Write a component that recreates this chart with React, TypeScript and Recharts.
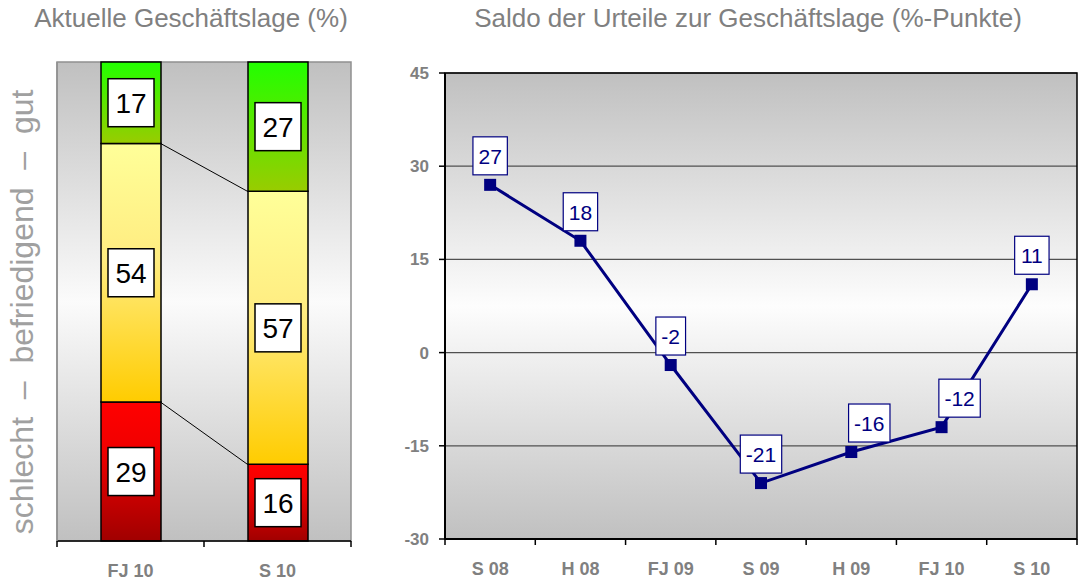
import React from 'react';
import {
  BarChart, Bar, LineChart, Line, XAxis, YAxis, CartesianGrid,
  LabelList, ReferenceLine, ReferenceArea,
} from 'recharts';

// Aktuelle Geschäftslage (%)
const periods = ['FJ 10', 'S 10'];
const schlecht = [29, 16];
const befriedigend = [54, 57];
const gut = [17, 27];

// Saldo der Urteile (%-Punkte)
const saldoPeriods = ['S 08', 'H 08', 'FJ 09', 'S 09', 'H 09', 'FJ 10', 'S 10'];
const saldo = [27, 18, -2, -21, -16, -12, 11];
const saldoTicks = [-30, -15, 0, 15, 30, 45];

const FONT = '"Liberation Sans", Arial, Helvetica, sans-serif';
const GREY = '#808080';
const NAVY = '#000080';
const BAR = 60;

const shareData = periods.map((p, i) => ({
  name: p, schlecht: schlecht[i], befriedigend: befriedigend[i], gut: gut[i],
}));
const saldoData = saldoPeriods.map((p, i) => ({ name: p, saldo: saldo[i] }));

// tick line at the band edges + bold grey category text
function EdgeTick(props: any) {
  const { x, y, payload, index, visibleTicksCount } = props;
  const half = payload?.offset ?? 0;
  const last = index === visibleTicksCount - 1;
  return (
    <g>
      <line x1={x - half} y1={y} x2={x - half} y2={y + 6} stroke="#000" strokeWidth={1.5} />
      {last && <line x1={x + half} y1={y} x2={x + half} y2={y + 6} stroke="#000" strokeWidth={1.5} />}
      <text x={x} y={y + 36} textAnchor="middle" fill={GREY} fontSize={18} fontWeight="bold" fontFamily={FONT}>
        {payload.value}
      </text>
    </g>
  );
}

function boxOf(props: any) {
  const vb = props.viewBox || {};
  return {
    x: props.x ?? vb.x ?? 0,
    y: props.y ?? vb.y ?? 0,
    width: props.width ?? vb.width ?? 0,
    height: props.height ?? vb.height ?? 0,
  };
}

function ShareLabel(props: any) {
  const b = boxOf(props);
  const cx = b.x + b.width / 2;
  const cy = b.y + b.height / 2;
  return (
    <g>
      <rect x={cx - 23} y={cy - 24} width={46} height={48} fill="#fff" stroke="#000" strokeWidth={1.5} />
      <text x={cx} y={cy + 10} textAnchor="middle" fontSize={28} fontFamily={FONT} fill="#000">
        {props.value}
      </text>
    </g>
  );
}

function SaldoLabel(props: any) {
  const b = boxOf(props);
  const text = String(props.value);
  const nudge = props.index === 4 || props.index === 5 ? 18 : 0;
  const w = [...text].reduce((s, c) => s + (c === '-' ? 7 : 11.7), 0) + 11;
  const cx = b.x + nudge;
  const top = b.y - 48;
  return (
    <g>
      <rect x={cx - w / 2} y={top} width={w} height={38} fill="#fff" stroke={NAVY} strokeWidth={1.2} />
      <text x={cx} y={top + 27} textAnchor="middle" fontSize={21} fontFamily={FONT} fill={NAVY}>
        {text}
      </text>
    </g>
  );
}

function SquareDot(props: any) {
  const { cx, cy } = props;
  return <rect x={cx - 6} y={cy - 6} width={12} height={12} fill={NAVY} />;
}

function ShareChart() {
  const low = [schlecht[0], schlecht[1]];
  const mid = [schlecht[0] + befriedigend[0], schlecht[1] + befriedigend[1]];
  const connector = (p: any) => (
    <line x1={p.x1 + BAR / 2} y1={p.y1} x2={p.x2 - BAR / 2} y2={p.y2} stroke="#000" strokeWidth={1} />
  );
  return (
    <BarChart width={370} height={584} data={shareData} margin={{ top: 62, right: 19, bottom: 0, left: 0 }} barSize={BAR}>
      <defs>
        <linearGradient id="bgL" x1="0" y1="0" x2="0" y2="1">
          <stop offset="0%" stopColor="#c0c0c0" />
          <stop offset="50%" stopColor="#fbfbfb" />
          <stop offset="100%" stopColor="#c0c0c0" />
        </linearGradient>
        <linearGradient id="gRed" x1="0" y1="0" x2="0" y2="1">
          <stop offset="0%" stopColor="#ff0000" />
          <stop offset="35%" stopColor="#f00000" />
          <stop offset="100%" stopColor="#a00000" />
        </linearGradient>
        <linearGradient id="gYellow" x1="0" y1="0" x2="0" y2="1">
          <stop offset="0%" stopColor="#ffff99" />
          <stop offset="45%" stopColor="#ffec80" />
          <stop offset="100%" stopColor="#ffcc00" />
        </linearGradient>
        <linearGradient id="gGreen" x1="0" y1="0" x2="0" y2="1">
          <stop offset="0%" stopColor="#22ff00" />
          <stop offset="100%" stopColor="#99cc00" />
        </linearGradient>
      </defs>
      <CartesianGrid horizontal={false} vertical={false} fill="url(#bgL)" />
      <XAxis
        dataKey="name" height={43} tickSize={0} tickMargin={0}
        axisLine={{ stroke: '#000', strokeWidth: 1.5 }} tickLine={false} tick={<EdgeTick />}
        interval={0}
      />
      <YAxis
        type="number" domain={[0, 100]} width={57} tick={false} tickLine={false}
        axisLine={{ stroke: '#909090', strokeWidth: 1.5 }}
      />
      <ReferenceArea y1={0} y2={100} fill="none" stroke="#909090" strokeWidth={1.5} />
      <Bar dataKey="schlecht" stackId="a" fill="url(#gRed)" stroke="#000" strokeWidth={1.5} isAnimationActive={false}>
        <LabelList dataKey="schlecht" content={<ShareLabel />} />
      </Bar>
      <Bar dataKey="befriedigend" stackId="a" fill="url(#gYellow)" stroke="#000" strokeWidth={1.5} isAnimationActive={false}>
        <LabelList dataKey="befriedigend" content={<ShareLabel />} />
      </Bar>
      <Bar dataKey="gut" stackId="a" fill="url(#gGreen)" stroke="#000" strokeWidth={1.5} isAnimationActive={false}>
        <LabelList dataKey="gut" content={<ShareLabel />} />
      </Bar>
      <ReferenceLine segment={[{ x: periods[0], y: low[0] }, { x: periods[1], y: low[1] }]} shape={connector} />
      <ReferenceLine segment={[{ x: periods[0], y: mid[0] }, { x: periods[1], y: mid[1] }]} shape={connector} />
    </BarChart>
  );
}

function SaldoChart() {
  return (
    <LineChart width={699} height={584} data={saldoData} margin={{ top: 73, right: 2, bottom: 0, left: 0 }}>
      <defs>
        <linearGradient id="bgR" x1="0" y1="0" x2="0" y2="1">
          <stop offset="0%" stopColor="#c0c0c0" />
          <stop offset="50%" stopColor="#fdfdfd" />
          <stop offset="100%" stopColor="#c0c0c0" />
        </linearGradient>
      </defs>
      <CartesianGrid vertical={false} stroke="#505050" strokeWidth={1.2} fill="url(#bgR)" />
      <XAxis
        dataKey="name" scale="band" height={45} tickSize={0} tickMargin={0} interval={0}
        axisLine={{ stroke: '#000', strokeWidth: 2 }} tickLine={false} tick={<EdgeTick />}
      />
      <YAxis
        type="number" domain={[-30, 45]} ticks={saldoTicks} width={65} interval={0}
        tickSize={6} tickMargin={10}
        axisLine={{ stroke: '#000', strokeWidth: 2 }} tickLine={{ stroke: '#000', strokeWidth: 1.5 }}
        tick={{ fill: GREY, fontSize: 17, fontWeight: 'bold', fontFamily: FONT }}
      />
      <ReferenceArea y1={-30} y2={45} fill="none" stroke="#000" strokeWidth={1.5} />
      <Line
        dataKey="saldo" stroke={NAVY} strokeWidth={3} dot={<SquareDot />} activeDot={false}
        isAnimationActive={false}
      >
        <LabelList dataKey="saldo" content={<SaldoLabel />} />
      </Line>
    </LineChart>
  );
}

export default function App() {
  const title: React.CSSProperties = {
    position: 'absolute', top: 3, fontSize: 26, lineHeight: '30px', color: GREY,
    textAlign: 'center', whiteSpace: 'nowrap', fontFamily: FONT,
  };
  return (
    <div style={{ position: 'absolute', left: 0, top: 0, width: 1079, height: 584, background: '#fff', fontFamily: FONT }}>
      <div style={{ ...title, left: 0, width: 382 }}>Aktuelle Geschäftslage (%)</div>
      <div style={{ ...title, left: 418, width: 660 }}>Saldo der Urteile zur Geschäftslage (%-Punkte)</div>
      <div style={{ position: 'absolute', left: 0, top: 0 }}>
        <ShareChart />
      </div>
      <div style={{ position: 'absolute', left: 380, top: 0 }}>
        <SaldoChart />
      </div>
      <svg style={{ position: 'absolute', left: 0, top: 0 }} width={56} height={584}>
        <text
          x={33} y={312} transform="rotate(-90 33 312)" textAnchor="middle"
          fontSize={32} fontFamily={FONT} fill="#a0a0a0" style={{ whiteSpace: 'pre' }}
        >
          {'schlecht  –  befriedigend  –  gut'}
        </text>
      </svg>
    </div>
  );
}
